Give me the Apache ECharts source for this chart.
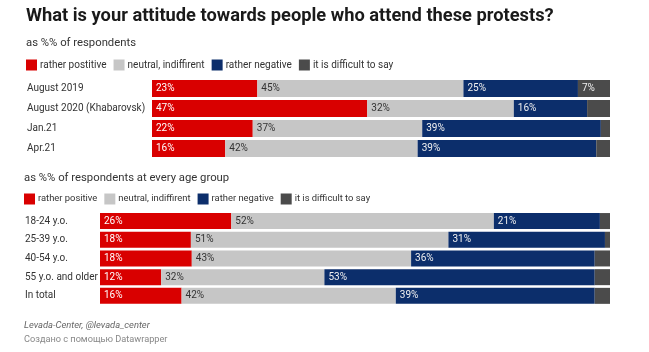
<!DOCTYPE html>
<html>
<head>
<meta charset="utf-8">
<script src="https://cdn.jsdelivr.net/npm/echarts@6/dist/echarts.min.js"></script>
<style>
  html, body { margin: 0; padding: 0; background: #fff; }
  #main { width: 649px; height: 352px; }
</style>
</head>
<body>
<div id="main"></div>
<script>
// данные: верхний блок (по времени)
const topCategories = ["August 2019", "August 2020 (Khabarovsk)", "Jan.21", "Apr.21"]
const topPositive = [23, 47, 22, 16]
const topNeutral = [45, 32, 37, 42]
const topNegative = [25, 16, 39, 39]
const topDifficult = [7, 5, 2, 3]

// нижний блок (по возрасту)
const ageCategories = ["18-24 y.o.", "25-39 y.o.", "40-54 y.o.", "55 y.o. and older", "In total"]
const agePositive = [26, 18, 18, 12, 16]
const ageNeutral = [52, 51, 43, 32, 42]
const ageNegative = [21, 31, 36, 53, 39]
const ageDifficult = [2, 1, 3, 3, 3]

const topNames = ["rather postitive", "neutral, indiffirent", "rather negative", "it is difficult to say"]
const ageNames = ["rather positive", "neutral, indiffirent", "rather negative", "it is difficult to say"]
const colors = ["#d90000", "#c6c6c6", "#0c2e6b", "#4b4b4b"]
const labelColors = ["#fff", "#333", "#f0f0f0", "#f0f0f0"]
const FONT = "Roboto"

// каждая строка нормируется на свою сумму, подпись — исходное значение
function makeSeries(groups, names, idx, stack, minLabel) {
  const sums = groups[0].map((_, i) => groups.reduce((s, g) => s + g[i], 0))
  return groups.map((g, k) => ({
    name: names[k],
    type: "bar",
    stack: stack,
    xAxisIndex: idx,
    yAxisIndex: idx,
    barWidth: idx === 0 ? 17 : 16,
    itemStyle: { color: colors[k] },
    label: {
      show: true,
      position: "insideLeft",
      distance: 4,
      color: labelColors[k],
      fontFamily: FONT,
      fontSize: 10,
      formatter: p => (g[p.dataIndex] >= minLabel[k] ? g[p.dataIndex] + "%" : "")
    },
    data: g.map((v, i) => (v / sums[i]) * 100)
  }))
}

const chart = echarts.init(document.getElementById("main"))
const option = {
  animation: false,
  textStyle: { fontFamily: FONT },
  title: [
    {
      text: "What is your attitude towards people who attend these protests?",
      left: 26, top: 7, padding: 0,
      textStyle: { fontFamily: FONT, fontSize: 18.3, fontWeight: "bold", color: "#1a1a1a" }
    },
    { text: "as %% of respondents", left: 26, top: 38, padding: 0,
      textStyle: { fontFamily: FONT, fontSize: 11.3, fontWeight: "normal", color: "#333" } },
    { text: "as %% of respondents at every age group", left: 24, top: 172.5, padding: 0,
      textStyle: { fontFamily: FONT, fontSize: 11.3, fontWeight: "normal", color: "#333" } },
    { text: "Levada-Center, @levada_center", left: 24, top: 321, padding: 0,
      textStyle: { fontFamily: FONT, fontSize: 9.4, fontWeight: "normal", fontStyle: "italic", color: "#666" } },
    { text: "Создано с помощью Datawrapper", left: 24, top: 335, padding: 0,
      textStyle: { fontFamily: FONT, fontSize: 9.2, fontWeight: "normal", color: "#888" } }
  ],
  legend: [
    {
      data: topNames, left: 26, top: 59.5, padding: 0, itemWidth: 11, itemHeight: 11, itemGap: 7,
      icon: "rect", selectedMode: false,
      textStyle: { fontFamily: FONT, fontSize: 10, color: "#333", padding: [0, 0, 0, -2] }
    },
    {
      data: ageNames, left: 24, top: 193.5, padding: 0, itemWidth: 11, itemHeight: 11, itemGap: 7,
      icon: "rect", selectedMode: false,
      textStyle: { fontFamily: FONT, fontSize: 9.4, color: "#333", padding: [0, 0, 0, -2] }
    }
  ],
  grid: [
    { left: 152, right: 39, top: 78.5, height: 80 },
    { left: 100, right: 39, top: 211.7, height: 93.5 }
  ],
  xAxis: [
    { type: "value", gridIndex: 0, min: 0, max: 100, show: false },
    { type: "value", gridIndex: 1, min: 0, max: 100, show: false }
  ],
  yAxis: [
    {
      type: "category", gridIndex: 0, data: topCategories, inverse: true,
      axisLine: { show: false }, axisTick: { show: false },
      axisLabel: { align: "left", margin: 125, fontFamily: FONT, fontSize: 10, color: "#333" }
    },
    {
      type: "category", gridIndex: 1, data: ageCategories, inverse: true,
      axisLine: { show: false }, axisTick: { show: false },
      axisLabel: { align: "left", margin: 75, fontFamily: FONT, fontSize: 10, color: "#333" }
    }
  ],
  series: [
    ...makeSeries([topPositive, topNeutral, topNegative, topDifficult], topNames, 0, "top", [0, 0, 0, 6]),
    ...makeSeries([agePositive, ageNeutral, ageNegative, ageDifficult], ageNames, 1, "age", [0, 0, 0, 6])
  ]
}
chart.setOption(option)
</script>
</body>
</html>
